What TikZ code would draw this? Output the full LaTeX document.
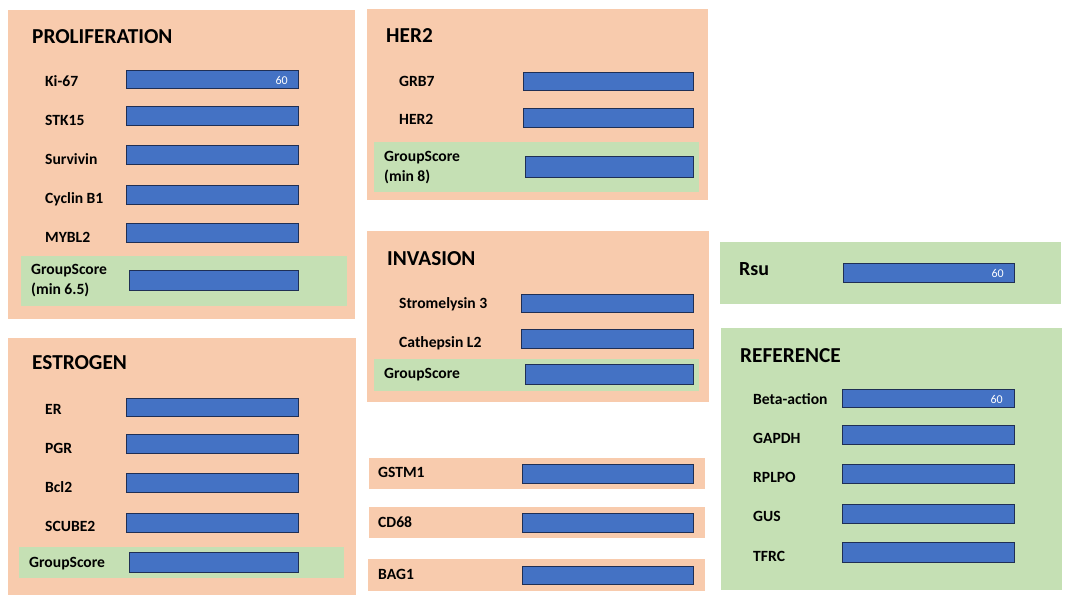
\documentclass[tikz,border=0pt]{standalone}
\usepackage{fontspec}
\setmainfont{Carlito}
\definecolor{peach}{HTML}{F8CBAD}
\definecolor{lgreen}{HTML}{C5E0B4}
\definecolor{barblue}{HTML}{4472C4}
\definecolor{barline}{HTML}{1F2F55}
\begin{document}
\begin{tikzpicture}[x=1pt,y=-1pt,
  orangebox/.style={fill=peach},
  greenbox/.style={fill=lgreen},
  barbox/.style={fill=barblue,draw=barline,line width=0.9pt},
  lbl/.style={anchor=base west,inner sep=0pt,font=\bfseries\fontsize{15.6}{18}\selectfont},
  ttl/.style={anchor=base west,inner sep=0pt,font=\bfseries\fontsize{21.3}{24}\selectfont},
  val/.style={anchor=base east,inner sep=0pt,text=white,font=\fontsize{12}{13}\selectfont}]
\useasboundingbox (0,0) rectangle (1072,603);
\fill[white] (0,0) rectangle (1072,603);

% ---------- PROLIFERATION ----------
\fill[orangebox] (8,10) rectangle (355,319);
\fill[greenbox] (21,256) rectangle (347,306);
\node[ttl] (tprol) at (32,43) {PROLIFERATION};
\draw[barbox] (126,70) rectangle (298,88);
\draw[barbox] (126,106) rectangle (298,125);
\draw[barbox] (126,145) rectangle (298,164);
\draw[barbox] (126,185) rectangle (298,204);
\draw[barbox] (126,223) rectangle (298,242);
\draw[barbox] (129,270) rectangle (298,290);
\node[val] (vki) at (288,84) {60};
\node[lbl] (lki) at (45,86) {Ki-67};
\node[lbl] (lstk) at (45,125) {STK15};
\node[lbl] (lsurv) at (45,164) {Survivin};
\node[lbl] (lcyc) at (45,203) {Cyclin B1};
\node[lbl] (lmyb) at (45,242) {MYBL2};
\node[lbl] (lgs1) at (31,274) {GroupScore};
\node[lbl] (lgs1b) at (31,294) {(min 6.5)};

% ---------- ESTROGEN ----------
\fill[orangebox] (8,338) rectangle (356,595);
\fill[greenbox] (19,547) rectangle (344,578);
\node[ttl] (testr) at (32,369) {ESTROGEN};
\draw[barbox] (126,398) rectangle (298,416);
\draw[barbox] (126,434) rectangle (298,453);
\draw[barbox] (126,473) rectangle (298,492);
\draw[barbox] (126,513) rectangle (298,532);
\draw[barbox] (129,552) rectangle (298,572);
\node[lbl] (ler) at (45,414) {ER};
\node[lbl] (lpgr) at (45,453) {PGR};
\node[lbl] (lbcl) at (45,492) {Bcl2};
\node[lbl] (lscu) at (45,531) {SCUBE2};
\node[lbl] (lgs2) at (29,567) {GroupScore};

% ---------- HER2 ----------
\fill[orangebox] (367,9) rectangle (708,200);
\fill[greenbox] (374,142) rectangle (699,192);
\node[ttl] (ther) at (386,42) {HER2};
\draw[barbox] (523,72) rectangle (693,90);
\draw[barbox] (523,108) rectangle (693,127);
\draw[barbox] (525,156) rectangle (693,177);
\node[lbl] (lgrb) at (399,86) {GRB7};
\node[lbl] (lher) at (399,124) {HER2};
\node[lbl] (lgs3) at (384,161) {GroupScore};
\node[lbl] (lgs3b) at (384,181) {(min 8)};

% ---------- INVASION ----------
\fill[orangebox] (367,231) rectangle (709,402);
\fill[greenbox] (374,359) rectangle (699,391);
\node[ttl] (tinv) at (387,265) {INVASION};
\draw[barbox] (521,294) rectangle (693,312);
\draw[barbox] (521,329) rectangle (693,348);
\draw[barbox] (525,364) rectangle (693,384);
\node[lbl] (lstr) at (399,308) {Stromelysin 3};
\node[lbl] (lcat) at (399,347) {Cathepsin L2};
\node[lbl] (lgs4) at (384,378) {GroupScore};

% ---------- GSTM1 / CD68 / BAG1 ----------
\fill[orangebox] (369,458) rectangle (705,489);
\draw[barbox] (522,464) rectangle (693,483);
\node[lbl] (lgst) at (378,477) {GSTM1};
\fill[orangebox] (369,507) rectangle (705,538);
\draw[barbox] (522,513) rectangle (693,532);
\node[lbl] (lcd) at (378,527) {CD68};
\fill[orangebox] (368,559) rectangle (705,591);
\draw[barbox] (522,566) rectangle (693,584);
\node[lbl] (lbag) at (378,579) {BAG1};

% ---------- Rsu ----------
\fill[greenbox] (720,242) rectangle (1061,304);
\draw[barbox] (843,263) rectangle (1014,282);
\node[ttl,font=\bfseries\fontsize{20}{22}\selectfont] (trsu) at (739,275) {Rsu};
\node[val] (vrsu) at (1004,277) {60};

% ---------- REFERENCE ----------
\fill[greenbox] (721,328) rectangle (1062,590);
\node[ttl] (tref) at (740,362) {REFERENCE};
\draw[barbox] (842,389) rectangle (1014,407);
\draw[barbox] (842,425) rectangle (1014,444);
\draw[barbox] (842,464) rectangle (1014,483);
\draw[barbox] (842,504) rectangle (1014,523);
\draw[barbox] (842,542) rectangle (1014,562);
\node[val] (vbeta) at (1003,403) {60};
\node[lbl] (lbeta) at (753,404) {Beta-action};
\node[lbl] (lgap) at (753,443) {GAPDH};
\node[lbl] (lrpl) at (753,482) {RPLPO};
\node[lbl] (lgus) at (753,521) {GUS};
\node[lbl] (ltfr) at (753,561) {TFRC};
\end{tikzpicture}
\end{document}
